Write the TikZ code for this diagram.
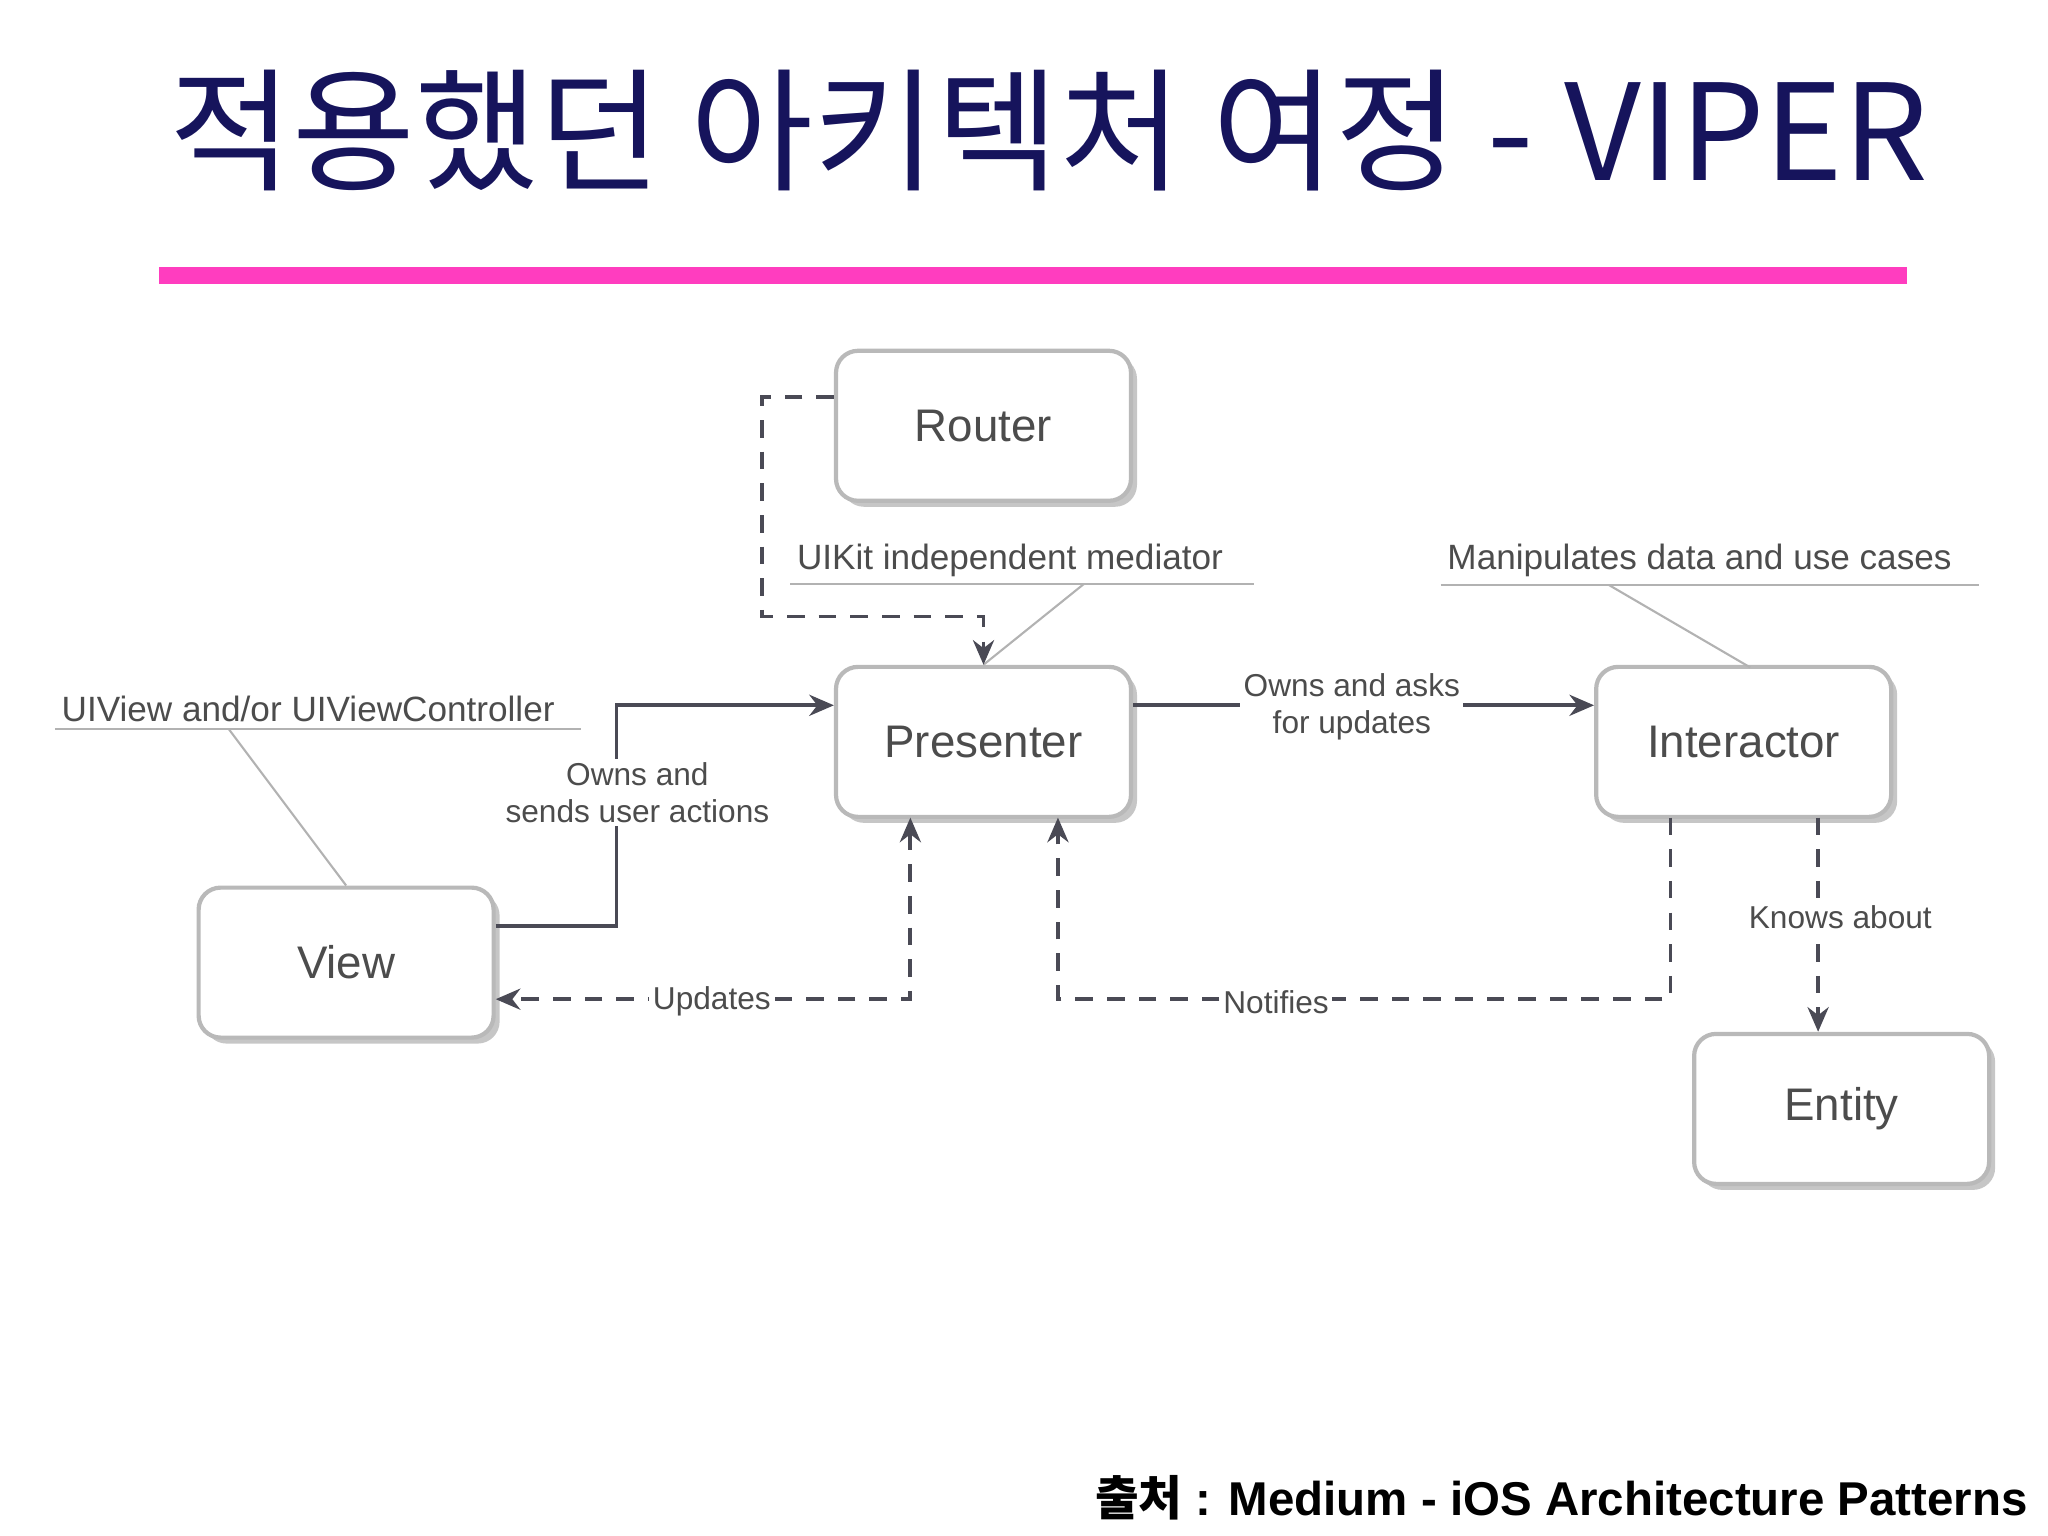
\documentclass[tikz,border=0pt]{standalone}
\usepackage{fontspec}
\setmainfont{Liberation Sans}
\newfontfamily\cjk{Noto Sans CJK KR}
\usetikzlibrary{arrows.meta,shadows,positioning}
\definecolor{titleblue}{HTML}{16145C}
\definecolor{barpink}{HTML}{FF3DBF}
\definecolor{linegray}{HTML}{4A4A55}
\tikzset{
  box/.style={draw=gray!55, line width=1.2pt, rounded corners=0.22cm, fill=white,
    minimum width=2.95cm, minimum height=1.5cm, text=black!70,
    font=\fontsize{13}{15}\selectfont,
    drop shadow={shadow xshift=0.06cm, shadow yshift=-0.06cm, fill=gray!45, opacity=1}},
  note/.style={text=black!70, font=\fontsize{10}{12}\selectfont, inner sep=1pt},
  elabel/.style={text=black!70, font=\fontsize{9}{10.5}\selectfont, fill=white,
    inner sep=1pt, align=center},
  solidarr/.style={draw=linegray, line width=1.1pt, -{Stealth[length=7pt,width=6pt]}},
  dasharr/.style={draw=linegray, line width=1.1pt, dash pattern=on 5pt off 4pt,
    -{Stealth[length=7pt,width=6pt]}},
  pointer/.style={draw=gray!60, line width=0.6pt}
}
\begin{document}
\begin{tikzpicture}[x=0.01306cm, y=-0.01306cm]
  \useasboundingbox (0,0) rectangle (1568,1176);
  % title
  \node[text=titleblue, font=\cjk\fontsize{38}{44}\selectfont] (title) at (803,100)
    {적용했던 아키텍처 여정 - VIPER};
  \draw[barpink, line width=5pt] (122,211) -- (1460,211);
  % boxes
  \node[box] (router) at (753,326) {Router};
  \node[box] (presenter) at (753,568) {Presenter};
  \node[box] (interactor) at (1335,568) {Interactor};
  \node[box] (view) at (265,737) {View};
  \node[box] (entity) at (1410,849) {Entity};
  % notes
  \node[note, anchor=south west] (mednote) at (607,445) {UIKit independent mediator};
  \draw[pointer] (605,447) -- (960,447);
  \draw[pointer] (830,447) -- (presenter.north);
  \node[note, anchor=south west] (intnote) at (1105,445) {Manipulates data and use cases};
  \draw[pointer] (1103,448) -- (1515,448);
  \draw[pointer] (1232,448) -- (1340,511);
  \node[note, anchor=south west] (viewnote) at (44,556) {UIView and/or UIViewController};
  \draw[pointer] (42,558) -- (445,558);
  \draw[pointer] (175,558) -- (view.north);
  % connectors
  \coordinate (rc) at (753,472);
  \draw[dasharr] (router.west |- 0,304) -- ++(-55,0) |- (rc) -- (presenter.north);
  \draw[solidarr] ([yshift=0.37cm]view.east) -| (472,540) -- (presenter.west |- 0,540);
  \node[elabel] (ownsend) at (488,607) {Owns and\\sends user actions};
  \draw[solidarr] (presenter.east |- 0,540) -- (interactor.west |- 0,540);
  \node[elabel] (ownask) at (1035,541) {Owns and asks\\for updates};
  \draw[dasharr, {Stealth[length=7pt,width=6pt]}-{Stealth[length=7pt,width=6pt]}]
    (697,626) -- (697,765) -- (view.east |- 0,765);
  \node[elabel] (upd) at (545,767) {Updates};
  \draw[dasharr] (1279,626) -- (1279,765) -- (810,765) -- (810,626);
  \node[elabel] (notif) at (977,767) {Notifies};
  \draw[dasharr] (1392,626) -- (entity.north -| 1392,0);
  \node[elabel] (knows) at (1409,702) {Knows about};
  % footer
  \node[anchor=east, font=\bfseries\fontsize{13.5}{16}\selectfont] (src) at (1562,1147)
    {{\cjk 출처} : Medium - iOS Architecture Patterns};
\end{tikzpicture}
\end{document}
